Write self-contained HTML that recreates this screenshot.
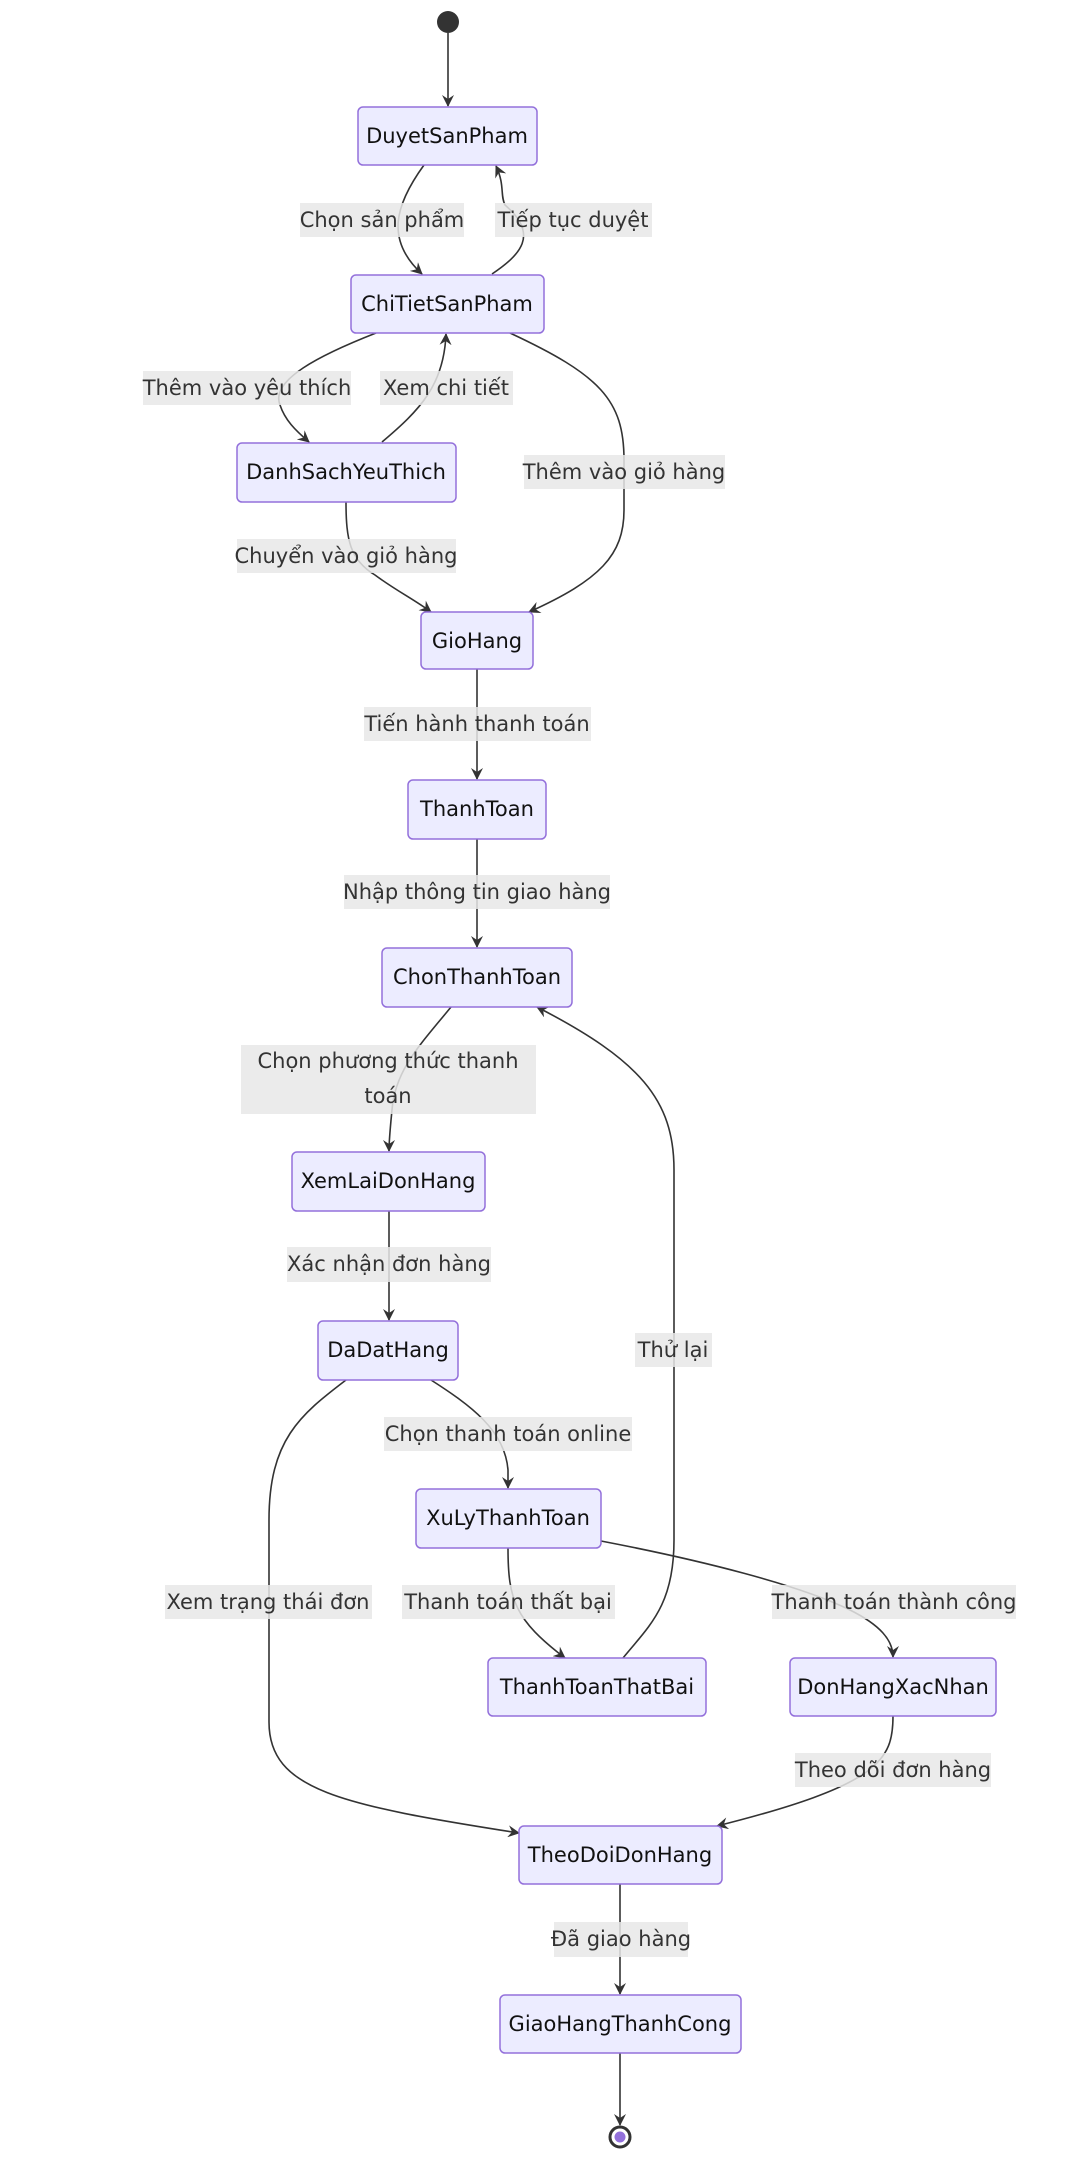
<!DOCTYPE html>
<html><head><meta charset="utf-8"><style>
html,body{margin:0;padding:0;background:#fff}
svg{display:block}
.n{fill:#ECECFF;stroke:#9370DB;stroke-width:1.5}
.t{font-family:"DejaVu Sans","Liberation Sans",sans-serif;font-size:21px;fill:#111;text-anchor:middle;dominant-baseline:central}
.l{font-family:"DejaVu Sans","Liberation Sans",sans-serif;font-size:21px;fill:#333;text-anchor:middle;dominant-baseline:central}
.lb{fill:#E8E8E8;opacity:0.85}
.e{fill:none;stroke:#333;stroke-width:1.6}
</style></head><body>
<svg width="1092" height="2160" viewBox="0 0 1092 2160" xmlns="http://www.w3.org/2000/svg">
<defs><marker id="a" viewBox="0 0 12 12" refX="11" refY="6" markerWidth="12" markerHeight="12" orient="auto" markerUnits="userSpaceOnUse"><path d="M0,0 L12,6 L0,12 L4,6 z" fill="#333"/></marker></defs>

<!-- edges -->
<path class="e" marker-end="url(#a)" d="M448,33 L448,106"/>
<path class="e" marker-end="url(#a)" d="M424,165 C395,205 385,240 422,274"/>
<path class="e" marker-end="url(#a)" d="M492,274 C520,255 540,235 505,205 C500,195 505,185 496,166"/>
<path class="e" marker-end="url(#a)" d="M376,333 C320,355 270,380 280,405 C285,420 295,430 309,442"/>
<path class="e" marker-end="url(#a)" d="M382,442 C420,410 444,385 446,334"/>
<path class="e" marker-end="url(#a)" d="M510,333 C600,375 624,400 624,460 L624,510 C624,555 600,580 529,612"/>
<path class="e" marker-end="url(#a)" d="M346,502 C346,540 350,560 375,575 C395,590 415,600 431,612"/>
<path class="e" marker-end="url(#a)" d="M477,669 L477,779"/>
<path class="e" marker-end="url(#a)" d="M477,839 L477,947"/>
<path class="e" marker-end="url(#a)" d="M451,1007 C420,1045 395,1070 392,1110 C390,1130 389,1140 389,1151"/>
<path class="e" marker-end="url(#a)" d="M389,1211 L389,1320"/>
<path class="e" marker-end="url(#a)" d="M623,1658 C650,1625 674,1605 674,1540 L674,1170 C674,1100 640,1060 537,1007"/>
<path class="e" marker-end="url(#a)" d="M431,1380 C470,1405 505,1430 508,1470 L508,1488"/>
<path class="e" marker-end="url(#a)" d="M346,1380 C300,1415 269,1440 269,1520 L269,1722 C269,1790 340,1805 519,1833"/>
<path class="e" marker-end="url(#a)" d="M508,1548 C508,1600 515,1620 565,1658"/>
<path class="e" marker-end="url(#a)" d="M601,1541 C700,1560 800,1585 850,1610 C880,1625 893,1640 893,1657"/>
<path class="e" marker-end="url(#a)" d="M893,1716 C893,1760 880,1785 717,1826"/>
<path class="e" marker-end="url(#a)" d="M620,1884 L620,1994"/>
<path class="e" marker-end="url(#a)" d="M620,2053 L620,2125"/>

<!-- start/end -->
<circle cx="448" cy="22" r="11" fill="#333"/>
<circle cx="620" cy="2137" r="10" fill="#fff" stroke="#333" stroke-width="3"/>
<circle cx="620" cy="2137" r="5.5" fill="#9370DB"/>

<!-- nodes -->
<rect class="n" x="358" y="107" width="179" height="58" rx="5"/><text class="t" x="447" y="136">DuyetSanPham</text>
<rect class="n" x="351" y="275" width="193" height="58" rx="5"/><text class="t" x="447" y="304">ChiTietSanPham</text>
<rect class="n" x="237" y="443" width="219" height="59" rx="5"/><text class="t" x="346" y="472">DanhSachYeuThich</text>
<rect class="n" x="421" y="612" width="112" height="57" rx="5"/><text class="t" x="477" y="641">GioHang</text>
<rect class="n" x="408" y="780" width="138" height="59" rx="5"/><text class="t" x="477" y="809">ThanhToan</text>
<rect class="n" x="382" y="948" width="190" height="59" rx="5"/><text class="t" x="477" y="977">ChonThanhToan</text>
<rect class="n" x="292" y="1152" width="193" height="59" rx="5"/><text class="t" x="388" y="1181">XemLaiDonHang</text>
<rect class="n" x="318" y="1321" width="140" height="59" rx="5"/><text class="t" x="388" y="1350">DaDatHang</text>
<rect class="n" x="416" y="1489" width="185" height="59" rx="5"/><text class="t" x="508" y="1518">XuLyThanhToan</text>
<rect class="n" x="488" y="1658" width="218" height="58" rx="5"/><text class="t" x="597" y="1687">ThanhToanThatBai</text>
<rect class="n" x="790" y="1658" width="206" height="58" rx="5"/><text class="t" x="893" y="1687">DonHangXacNhan</text>
<rect class="n" x="519" y="1826" width="203" height="58" rx="5"/><text class="t" x="620" y="1855">TheoDoiDonHang</text>
<rect class="n" x="500" y="1995" width="241" height="58" rx="5"/><text class="t" x="620" y="2024">GiaoHangThanhCong</text>

<!-- labels -->
<rect class="lb" x="300" y="203" width="164" height="34"/><text class="l" x="382" y="220">Chọn sản phẩm</text>
<rect class="lb" x="495" y="203" width="157" height="34"/><text class="l" x="573" y="220">Tiếp tục duyệt</text>
<rect class="lb" x="143" y="371" width="208" height="34"/><text class="l" x="247" y="388">Thêm vào yêu thích</text>
<rect class="lb" x="380" y="371" width="133" height="34"/><text class="l" x="446" y="388">Xem chi tiết</text>
<rect class="lb" x="524" y="455" width="201" height="34"/><text class="l" x="624" y="472">Thêm vào giỏ hàng</text>
<rect class="lb" x="237" y="539" width="219" height="34"/><text class="l" x="346" y="556">Chuyển vào giỏ hàng</text>
<rect class="lb" x="364" y="707" width="227" height="34"/><text class="l" x="477" y="724">Tiến hành thanh toán</text>
<rect class="lb" x="344" y="875" width="266" height="34"/><text class="l" x="477" y="892">Nhập thông tin giao hàng</text>
<rect class="lb" x="241" y="1045" width="295" height="69"/><text class="l" x="388" y="1061">Chọn phương thức thanh</text><text class="l" x="388" y="1096">toán</text>
<rect class="lb" x="287" y="1247" width="204" height="35"/><text class="l" x="389" y="1264">Xác nhận đơn hàng</text>
<rect class="lb" x="635" y="1333" width="77" height="34"/><text class="l" x="673" y="1350">Thử lại</text>
<rect class="lb" x="384" y="1417" width="248" height="34"/><text class="l" x="508" y="1434">Chọn thanh toán online</text>
<rect class="lb" x="165" y="1585" width="207" height="34"/><text class="l" x="268" y="1602">Xem trạng thái đơn</text>
<rect class="lb" x="402" y="1585" width="213" height="34"/><text class="l" x="508" y="1602">Thanh toán thất bại</text>
<rect class="lb" x="772" y="1585" width="244" height="34"/><text class="l" x="894" y="1602">Thanh toán thành công</text>
<rect class="lb" x="795" y="1753" width="196" height="34"/><text class="l" x="893" y="1770">Theo dõi đơn hàng</text>
<rect class="lb" x="554" y="1922" width="134" height="35"/><text class="l" x="621" y="1939">Đã giao hàng</text>
</svg>
</body></html>
